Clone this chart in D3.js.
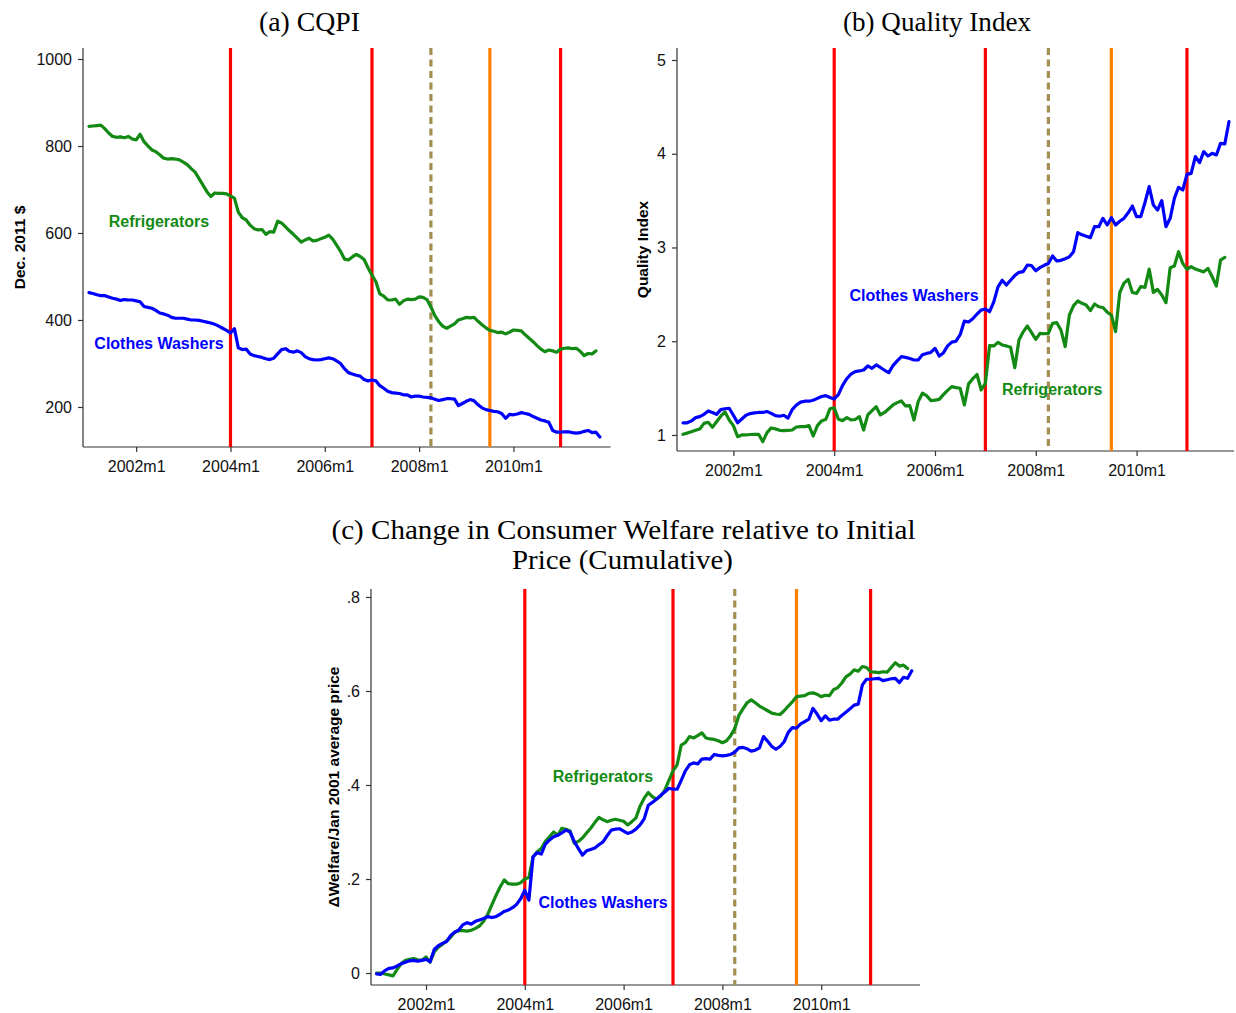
<!DOCTYPE html>
<html>
<head>
<meta charset="utf-8">
<script src="https://cdn.jsdelivr.net/npm/d3@7"></script>
<style>
  html, body { margin: 0; padding: 0; background: #ffffff; }
  svg { display: block; }
</style>
</head>
<body>
<svg id="chart" width="1236" height="1013"></svg>
<script>
// Monthly series; index 0 = 2001m1 (refrigerators run through 2011m10, washers through 2011m11)

// (a) CQPI, Dec. 2011 dollars
const cqpiRefrigerators = [
  845,846,847,848,840,830,822,820,821,819,
  822,816,814,827,810,800,791,787,780,772,
  770,771,770,768,763,757,748,740,725,710,
  695,684,692,691,691,690,685,680,648,635,
  630,618,610,607,608,597,603,602,627,623,
  614,605,597,588,579,584,588,582,583,587,
  590,595,586,572,558,540,538,545,551,546,
  539,520,503,488,460,455,446,446,448,436,
  444,448,447,448,453,452,447,430,410,396,
  386,381,386,391,400,403,406,405,406,397,
  389,382,376,374,371,372,368,372,377,376,
  375,366,358,350,341,333,327,331,329,326,
  333,335,336,334,335,328,318,323,322,329
];
const cqpiWashers = [
  463,461,458,456,456,453,450,448,445,447,
  446,446,444,442,431,429,427,422,416,414,
  411,406,404,404,404,402,400,400,399,397,
  395,393,390,386,381,376,370,380,336,332,
  333,322,318,316,314,311,309,312,322,332,
  334,328,326,329,325,316,311,309,308,309,
  311,313,311,306,300,288,279,276,273,271,
  263,260,262,260,249,243,236,233,232,231,
  228,228,223,225,225,223,222,221,218,215,
  217,219,219,218,203,208,213,217,214,205,
  198,194,192,190,189,185,174,183,182,184,
  187,185,183,178,174,170,168,165,146,142,
  142,143,143,141,140,141,144,146,141,142,
  131
];

// (b) Quality index
const qualityRefrigerators = [
  1.007,1.02,1.035,1.05,1.064,1.124,1.135,1.082,1.14,1.20,
  1.245,1.16,1.10,0.982,1.0,1.0,1.005,1.007,1.007,0.929,
  1.025,1.075,1.065,1.05,1.046,1.05,1.053,1.085,1.089,1.089,
  1.10,0.989,1.10,1.15,1.167,1.28,1.291,1.167,1.153,1.185,
  1.16,1.165,1.196,1.053,1.214,1.26,1.302,1.214,1.24,1.28,
  1.32,1.345,1.363,1.31,1.313,1.16,1.356,1.445,1.42,1.367,
  1.372,1.38,1.43,1.475,1.516,1.505,1.498,1.32,1.545,1.60,
  1.645,1.48,1.551,1.953,1.95,1.988,1.96,1.95,1.935,1.718,
  2.013,2.10,2.162,2.091,2.02,2.084,2.08,2.084,2.19,2.198,
  2.119,1.942,2.28,2.38,2.429,2.404,2.386,2.326,2.397,2.368,
  2.36,2.31,2.28,2.102,2.52,2.62,2.66,2.52,2.511,2.582,
  2.575,2.77,2.521,2.553,2.493,2.411,2.784,2.802,2.955,2.83,
  2.766,2.795,2.77,2.755,2.74,2.777,2.688,2.589,2.866,2.895
];
const qualityWashers = [
  1.13,1.13,1.15,1.185,1.196,1.22,1.256,1.24,1.22,1.27,
  1.28,1.285,1.21,1.13,1.17,1.21,1.228,1.235,1.24,1.24,
  1.25,1.23,1.206,1.2,1.21,1.18,1.27,1.32,1.35,1.36,
  1.36,1.37,1.39,1.41,1.42,1.40,1.384,1.43,1.53,1.60,
  1.65,1.675,1.683,1.693,1.736,1.711,1.747,1.72,1.69,1.665,
  1.74,1.79,1.835,1.828,1.815,1.80,1.80,1.855,1.87,1.88,
  1.924,1.842,1.875,1.95,1.99,2.0,2.07,2.215,2.205,2.24,
  2.29,2.333,2.343,2.315,2.42,2.58,2.65,2.60,2.65,2.70,
  2.735,2.742,2.813,2.806,2.752,2.785,2.81,2.83,2.909,2.856,
  2.863,2.88,2.90,2.955,3.158,3.135,3.12,3.105,3.222,3.222,
  3.311,3.24,3.318,3.24,3.28,3.311,3.37,3.442,3.329,3.329,
  3.48,3.649,3.453,3.40,3.50,3.222,3.311,3.524,3.642,3.613,
  3.78,3.791,3.969,3.905,4.022,3.976,4.004,3.987,4.111,4.104,
  4.342
];

// (c) Cumulative change in consumer welfare / Jan 2001 average price
const welfareRefrigerators = [
  0.0,0.0,-0.002,-0.004,-0.006,0.008,0.02,0.027,0.029,0.031,
  0.028,0.027,0.034,0.023,0.045,0.055,0.061,0.068,0.076,0.087,
  0.09,0.09,0.089,0.091,0.095,0.10,0.11,0.125,0.145,0.165,
  0.183,0.198,0.19,0.189,0.189,0.192,0.20,0.203,0.247,0.258,
  0.265,0.28,0.29,0.30,0.293,0.308,0.306,0.302,0.276,0.28,
  0.287,0.298,0.308,0.32,0.331,0.326,0.322,0.325,0.327,0.325,
  0.323,0.315,0.322,0.33,0.355,0.372,0.384,0.375,0.37,0.376,
  0.389,0.41,0.43,0.443,0.485,0.49,0.503,0.50,0.505,0.511,
  0.50,0.498,0.497,0.494,0.49,0.494,0.505,0.52,0.548,0.562,
  0.575,0.581,0.575,0.568,0.563,0.558,0.553,0.551,0.55,0.558,
  0.568,0.577,0.588,0.589,0.59,0.595,0.596,0.593,0.588,0.591,
  0.59,0.603,0.607,0.617,0.63,0.636,0.645,0.642,0.652,0.65,
  0.641,0.64,0.639,0.641,0.64,0.65,0.66,0.653,0.655,0.648
];
const welfareWashers = [
  -0.002,-0.003,0.005,0.01,0.011,0.015,0.02,0.023,0.026,0.027,
  0.025,0.027,0.029,0.024,0.05,0.058,0.063,0.067,0.08,0.087,
  0.092,0.103,0.107,0.104,0.11,0.113,0.116,0.12,0.118,0.12,
  0.125,0.131,0.134,0.139,0.146,0.158,0.176,0.155,0.247,0.256,
  0.253,0.274,0.283,0.29,0.293,0.298,0.304,0.30,0.28,0.265,
  0.251,0.26,0.263,0.266,0.273,0.279,0.292,0.304,0.306,0.307,
  0.302,0.297,0.30,0.306,0.315,0.328,0.357,0.363,0.37,0.378,
  0.385,0.393,0.391,0.391,0.41,0.43,0.443,0.447,0.445,0.455,
  0.456,0.455,0.465,0.463,0.462,0.463,0.465,0.47,0.479,0.48,
  0.477,0.472,0.474,0.479,0.503,0.493,0.482,0.476,0.482,0.492,
  0.512,0.522,0.521,0.53,0.535,0.54,0.563,0.551,0.537,0.547,
  0.538,0.54,0.54,0.548,0.555,0.562,0.57,0.572,0.613,0.625,
  0.625,0.626,0.627,0.622,0.624,0.626,0.627,0.618,0.629,0.627,
  0.643
];

// Axis ticks (x in months since 2001m1)
const xTickMonths = [12, 36, 60, 84, 108];
const xTickLabels = ["2002m1", "2004m1", "2006m1", "2008m1", "2010m1"];
const cqpiTicks = [200, 400, 600, 800, 1000];
const cqpiTickLabels = ["200", "400", "600", "800", "1000"];
const qualityTicks = [1, 2, 3, 4, 5];
const qualityTickLabels = ["1", "2", "3", "4", "5"];
const welfareTicks = [0, 0.2, 0.4, 0.6, 0.8];
const welfareTickLabels = ["0", ".2", ".4", ".6", ".8"];

// Reference months marked with vertical lines
const eventMonths = [36, 72, 87, 102, 120];
const eventKinds = ["red", "red", "dashed", "orange", "red"];

// ---- styling ----
const GREEN = "#138a13";
const BLUE = "#0000ff";
const EVENT_STYLE = {
  red:    { color: "#ff0000", dash: null },
  orange: { color: "#ff8000", dash: null },
  dashed: { color: "#a28e50", dash: "7,4.5" }
};
const SANS = "'Liberation Sans', Arial, sans-serif";
const SERIF = "'Liberation Serif', 'Times New Roman', serif";

const panels = [
  {
    title: ["(a) CQPI"], titleWidth: [101], titleX: [309.5], titleY: [31],
    frame: { l: 83, r: 610.5, t: 48, b: 447 },
    xDomain: [-1.53, 132.7], yDomain: [108, 1025.3],
    yTicks: cqpiTicks, yTickLabels: cqpiTickLabels,
    yTitle: "Dec. 2011 $", yTitleX: 19,
    series: [
      { values: cqpiRefrigerators, color: GREEN },
      { values: cqpiWashers, color: BLUE }
    ],
    labels: [
      { text: "Refrigerators", month: 17.8, value: 627, color: GREEN },
      { text: "Clothes Washers", month: 17.8, value: 347, color: BLUE }
    ]
  },
  {
    title: ["(b) Quality Index"], titleWidth: [188], titleX: [937], titleY: [31],
    frame: { l: 677, r: 1234, t: 48, b: 451 },
    xDomain: [-1.43, 131.2], yDomain: [0.829, 5.128],
    yTicks: qualityTicks, yTickLabels: qualityTickLabels,
    yTitle: "Quality Index", yTitleX: 642,
    series: [
      { values: qualityRefrigerators, color: GREEN },
      { values: qualityWashers, color: BLUE }
    ],
    labels: [
      { text: "Clothes Washers", month: 55, value: 2.493, color: BLUE },
      { text: "Refrigerators", month: 87.9, value: 1.49, color: GREEN }
    ]
  },
  {
    title: ["(c) Change in Consumer Welfare relative to Initial", "Price (Cumulative)"],
    titleWidth: [584, 221], titleX: [623.5, 622.5], titleY: [539, 569],
    frame: { l: 371, r: 920, t: 589, b: 985 },
    xDomain: [-1.36, 132], yDomain: [-0.0255, 0.817],
    yTicks: welfareTicks, yTickLabels: welfareTickLabels,
    yTitle: "\u0394Welfare/Jan 2001 average price", yTitleX: 333,
    series: [
      { values: welfareRefrigerators, color: GREEN },
      { values: welfareWashers, color: BLUE }
    ],
    labels: [
      { text: "Refrigerators", month: 55, value: 0.419, color: GREEN },
      { text: "Clothes Washers", month: 55, value: 0.149, color: BLUE }
    ]
  }
];

const svg = d3.select("#chart");
svg.append("rect").attr("width", 1236).attr("height", 1013).attr("fill", "#ffffff");

panels.forEach(p => {
  const g = svg.append("g");
  const f = p.frame;
  const x = d3.scaleLinear().domain(p.xDomain).range([f.l, f.r]);
  const y = d3.scaleLinear().domain(p.yDomain).range([f.b, f.t]);

  // title
  p.title.forEach((line, i) => {
    g.append("text")
      .attr("x", p.titleX[i]).attr("y", p.titleY[i])
      .attr("text-anchor", "middle")
      .attr("font-family", SERIF).attr("font-size", 26.5)
      .attr("textLength", p.titleWidth[i])
      .attr("lengthAdjust", "spacingAndGlyphs")
      .attr("fill", "#000")
      .text(line);
  });

  // y axis
  const yAxis = d3.axisLeft(y)
    .tickValues(p.yTicks)
    .tickFormat((d, i) => p.yTickLabels[i])
    .tickSize(5).tickPadding(6);
  const ya = g.append("g").attr("transform", `translate(${f.l},0)`).call(yAxis);
  ya.select(".domain").attr("d", `M0,${f.t}V${f.b}`).attr("stroke", "#333").attr("stroke-width", 1.2);
  ya.selectAll(".tick line").attr("stroke", "#333").attr("stroke-width", 1.2);
  ya.selectAll(".tick text").attr("font-family", SANS).attr("font-size", 16).attr("fill", "#111");

  // x axis
  const xAxis = d3.axisBottom(x)
    .tickValues(xTickMonths)
    .tickFormat((d, i) => xTickLabels[i])
    .tickSize(5).tickPadding(9);
  const xa = g.append("g").attr("transform", `translate(0,${f.b})`).call(xAxis);
  xa.select(".domain").attr("d", `M${f.l},0H${f.r}`).attr("stroke", "#333").attr("stroke-width", 1.2);
  xa.selectAll(".tick line").attr("stroke", "#333").attr("stroke-width", 1.2);
  xa.selectAll(".tick text").attr("font-family", SANS).attr("font-size", 16).attr("fill", "#111");

  // y axis title
  g.append("text")
    .attr("transform", `translate(${p.yTitleX},${(f.t + f.b) / 2}) rotate(-90)`)
    .attr("text-anchor", "middle")
    .attr("dominant-baseline", "central")
    .attr("font-family", SANS).attr("font-size", 15.5).attr("font-weight", "bold")
    .attr("fill", "#000")
    .text(p.yTitle);

  // vertical reference lines
  eventMonths.forEach((m, i) => {
    const st = EVENT_STYLE[eventKinds[i]];
    g.append("line")
      .attr("x1", x(m)).attr("x2", x(m))
      .attr("y1", f.t).attr("y2", f.b)
      .attr("stroke", st.color).attr("stroke-width", 3.2)
      .attr("stroke-dasharray", st.dash);
  });

  // series lines
  const line = d3.line().x((d, i) => x(i)).y(d => y(d));
  p.series.forEach(s => {
    g.append("path")
      .datum(s.values)
      .attr("d", line)
      .attr("fill", "none")
      .attr("stroke", s.color)
      .attr("stroke-width", 3.2)
      .attr("stroke-linejoin", "round")
      .attr("stroke-linecap", "round");
  });

  // series labels
  p.labels.forEach(l => {
    g.append("text")
      .attr("x", x(l.month)).attr("y", y(l.value))
      .attr("text-anchor", "middle")
      .attr("dominant-baseline", "central")
      .attr("font-family", SANS).attr("font-size", 16).attr("font-weight", "bold")
      .attr("fill", l.color)
      .text(l.text);
  });
});
</script>
</body>
</html>
